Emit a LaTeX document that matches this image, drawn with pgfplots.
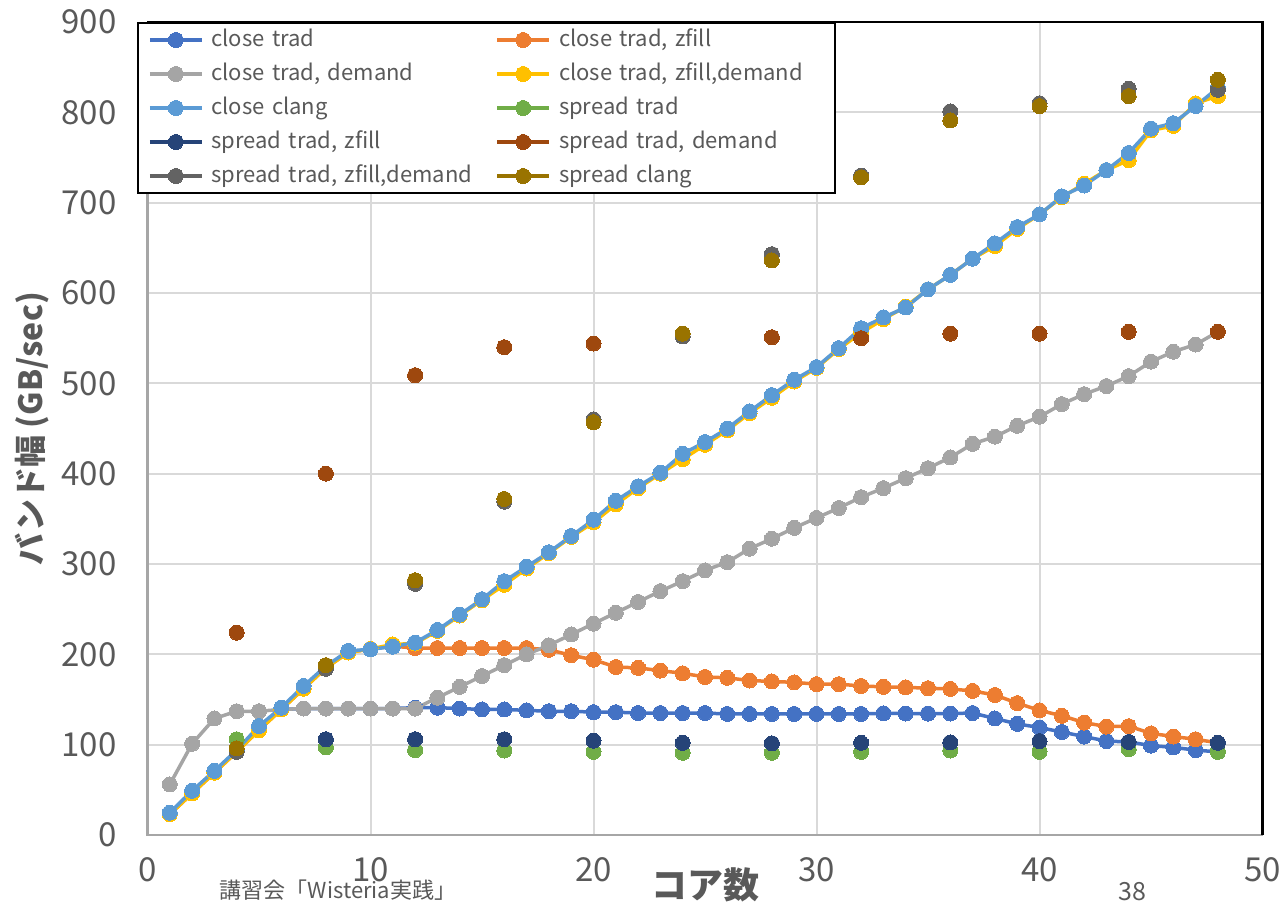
\documentclass[border=0pt]{standalone}
\usepackage{fontspec}
\setmainfont{Noto Sans CJK JP}
\usepackage{pgfplots}
\pgfplotsset{compat=1.18}
\definecolor{cA}{HTML}{4472C4}
\definecolor{cB}{HTML}{ED7D31}
\definecolor{cC}{HTML}{A5A5A5}
\definecolor{cD}{HTML}{FFC000}
\definecolor{cE}{HTML}{5B9BD5}
\definecolor{cF}{HTML}{70AD47}
\definecolor{cG}{HTML}{264478}
\definecolor{cH}{HTML}{9E480E}
\definecolor{cI}{HTML}{636363}
\definecolor{cJ}{HTML}{997300}
\definecolor{gridc}{HTML}{D9D9D9}
\definecolor{tickc}{HTML}{595959}
\definecolor{axc}{HTML}{A6A6A6}

\pgfplotstableread{
x y
1 24 
2 48 
3 70 
4 93 
5 118 
6 139 
7 140 
8 140 
9 140 
10 140 
11 140 
12 141 
13 141 
14 140 
15 139 
16 139 
17 138 
18 137 
19 137 
20 136 
21 136 
22 135 
23 135 
24 135 
25 135 
26 134 
27 134 
28 134 
29 134 
30 134 
31 134 
32 134 
33 134.7 
34 134.5 
35 134.5 
36 134.5 
37 135 
38 129 
39 123 
40 119 
41 114 
42 109 
43 104 
44 103 
45 99 
46 97 
47 94 
48 92
}\closetrad

\pgfplotstableread{
x y
1 23
2 46
3 69
4 92
5 116
6 139
7 162
8 185
9 202
10 206
11 209
12 207
13 207
14 207
15 207
16 207
17 207
18 205
19 199
20 194
21 186
22 185
23 182
24 179
25 175
26 174
27 171
28 170
29 169
30 167
31 167
32 165
33 164
34 163.5
35 162.5
36 161.7
37 159.5
38 155
39 146
40 138
41 132
42 124.5
43 120
44 120.5
45 112.5
46 109
47 106
48 102
}\closezfill

\pgfplotstableread{
x y
1 56
2 101
3 129
4 137
5 137
6 139
7 140
8 140
9 140
10 140
11 140
12 140
13 152
14 164
15 176
16 188
17 200
18 210
19 222
20 234
21 246
22 258
23 270
24 281
25 293
26 302
27 317
28 328
29 340
30 351
31 362
32 374
33 384
34 395
35 406
36 418
37 433
38 441
39 453
40 463
41 477
42 488
43 497
44 508
45 524
46 535
47 543
48 557
}\closedemand

\pgfplotstableread{
x y
1 23
2 46
3 69
4 92
5 116
6 139
7 162
8 185
9 202
10 206
11 211
12 212
13 226
14 243
15 260
16 277
17 295
18 312
19 330
20 346
21 366
22 384
23 400
24 416
25 432
26 448
27 467
28 484
29 502
30 517
31 538
32 556
33 571
34 585
35 604
36 620
37 638
38 652
39 671
40 687
41 706
42 721
43 736
44 747
45 780
46 785
47 810
48 818
}\closezfilldemand

\pgfplotstableread{
x y
1 24.7
2 49
3 71
4 94
5 120.7
6 141
7 165
8 187
9 203.8
10 205.6
11 208.5
12 213
13 227
14 244
15 261
16 281
17 297
18 313
19 331
20 349
21 370
22 386
23 401
24 422
25 435
26 450
27 469
28 487
29 504
30 518
31 539
32 561
33 573
34 584
35 604
36 620
37 638
38 655
39 673
40 687
41 707
42 719
43 736
44 755
45 782
46 788
47 807
48 827
}\closeclang

\pgfplotstableread{
x y
4 106
8 97
12 94
16 93.5
20 92
24 91
28 91
32 92
36 93.5
40 92
44 95
48 92
}\spreadtrad

\pgfplotstableread{
x y
4 93
8 106
12 106
16 106
20 104.5
24 102
28 101.5
32 102
36 102.5
40 104
44 103
48 102
}\spreadzfill

\pgfplotstableread{
x y
4 224
8 400
12 509
16 540
20 544
24 552
28 551
32 550
36 555
40 555
44 557
48 557
}\spreaddemand

\pgfplotstableread{
x y
4 92
8 184
12 278
16 369
20 460
24 552
28 643
32 730
36 801
40 810
44 826
48 825
}\spreadzfilldemand

\pgfplotstableread{
x y
4 96
8 188
12 282
16 372
20 457
24 555
28 636
32 728
36 791
40 807
44 818
48 836
}\spreadclang

\begin{document}
\begin{tikzpicture}
\useasboundingbox (-73.75pt,-33.5pt) rectangle (568.25pt,417.5pt);
\begin{axis}[
  at={(0,0)}, anchor=south west,
  scale only axis, width=557.5pt, height=406.5pt,
  xmin=0, xmax=50, ymin=0, ymax=900,
  xtick={0,10,...,50}, ytick={0,100,...,900},
  grid=major, grid style={draw=gridc, line width=1pt},
  axis line style={draw=none},
  major tick length=0pt,
  /pgf/number format/assume math mode=true,
  ticklabel style={font=\fontsize{16.5}{18}\selectfont, text=tickc},
  xticklabel style={anchor=center, yshift=-17.5pt},
  yticklabel style={anchor=east, xshift=-12pt},
  xlabel={コア数},
  xlabel style={at={(axis description cs:0.5,0)}, anchor=center, yshift=-25pt, font=\fontsize{18}{20}\selectfont\bfseries, text=tickc},
  ylabel={バンド幅 (GB/sec)},
  ylabel style={at={(axis description cs:-0.1036,0.5)}, anchor=center, rotate=0, font=\fontsize{16}{18}\selectfont\bfseries, text=tickc},
  every axis plot/.append style={line width=1.75pt, mark=*, mark size=3.75pt, mark options={solid, line width=0pt}},
  legend columns=2,
  legend cell align=left,
  legend image code/.code={\draw[#1,sharp plot,mark repeat=2,mark phase=2] plot coordinates {(0pt,0pt)(13pt,0pt)(26pt,0pt)};},
  legend style={at={(-0.0094,1.0)}, anchor=north west, draw=black, line width=1pt, fill=white,
    font=\fontsize{11}{13}\selectfont, text=tickc, column sep=3pt, row sep=4pt,
    inner xsep=5pt, inner ysep=2pt,
    nodes={inner sep=1pt, text height=8.5pt, text depth=2.5pt, text width=138pt, align=left}},
  clip=false,
]
\addplot[color=cA] table {\closetrad};
\addlegendentry{close trad}
\addplot[color=cB] table {\closezfill};
\addlegendentry[text width=132pt]{close trad, zfill}
\addplot[color=cC] table {\closedemand};
\addlegendentry{close trad, demand}
\addplot[color=cD] table {\closezfilldemand};
\addlegendentry[text width=132pt]{close trad, zfill,demand}
\addplot[color=cE] table {\closeclang};
\addlegendentry{close clang}
\addplot[color=cF, only marks] table {\spreadtrad};
\addlegendentry[text width=132pt]{spread trad}
\addplot[color=cG, only marks] table {\spreadzfill};
\addlegendentry{spread trad, zfill}
\addplot[color=cH, only marks] table {\spreaddemand};
\addlegendentry[text width=132pt]{spread trad, demand}
\addplot[color=cI, only marks] table {\spreadzfilldemand};
\addlegendentry{spread trad, zfill,demand}
\addplot[color=cJ, only marks] table {\spreadclang};
\addlegendentry[text width=132pt]{spread clang}
\draw[axc, line width=1.2pt] (rel axis cs:0,1) -- (rel axis cs:0,0) -- (rel axis cs:1,0);
\draw[black, line width=1.2pt] (rel axis cs:0,1) -- (rel axis cs:1,1) -- (rel axis cs:1,0);
\end{axis}
\node[text=tickc, font=\fontsize{11}{12}\selectfont] at (95.25pt,-27.5pt) {講習会「Wisteria実践」};
\node[text=tickc, font=\fontsize{12.5}{13}\selectfont] at (492.25pt,-28.5pt) {38};
\end{tikzpicture}
\end{document}
